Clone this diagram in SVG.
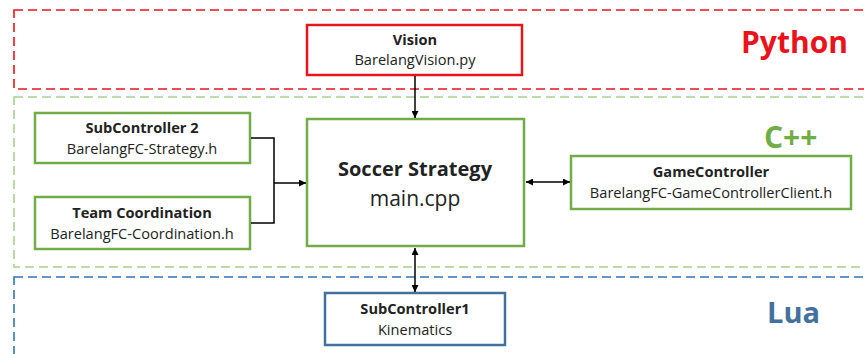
<svg xmlns="http://www.w3.org/2000/svg" width="864" height="354" viewBox="0 0 864 354">
<defs>
<marker id="ah" viewBox="0 0 10 10" refX="10" refY="5" markerWidth="7" markerHeight="7" orient="auto-start-reverse" markerUnits="userSpaceOnUse"><path d="M0,0 L10,5 L0,10 z" fill="#000"/></marker>
<style>
text{font-family:"Open Sans","Noto Sans",sans-serif;text-anchor:middle;fill:#222}
.b{font-weight:bold}
.t{font-size:14.6px}
.region{fill:none;stroke-width:1.6;stroke-dasharray:9 5}
.box{fill:#fff;stroke-width:2.5}
.g{stroke:#70AD47}
.lang{font-family:"Open Sans","Noto Sans",sans-serif;font-size:30px;font-weight:bold;text-anchor:start}
.c{fill:none;stroke:#000;stroke-width:1.5}
</style>
</defs>
<rect width="864" height="354" fill="#fff"/>
<g id="regions">
<rect class="region" x="14" y="10" width="870" height="79" stroke="#E8141C"/>
<rect class="region" x="14" y="97" width="870" height="170" stroke="#A9D18E"/>
<rect class="region" x="14" y="277" width="870" height="100" stroke="#2E75B6"/>
<text class="lang" x="741" y="53" style="fill:#E8141C">Python</text>
<text class="lang" x="764" y="148" style="fill:#70AD47">C++</text>
<text class="lang" x="767" y="323" style="fill:#41719C;font-size:29px">Lua</text>
</g>
<g id="vision">
<rect class="box" x="307" y="25" width="215" height="50" stroke="#E8141C"/>
<text class="t b" x="415" y="45">Vision</text>
<text class="t" x="415" y="65">BarelangVision.py</text>
</g>
<g id="subcontroller2">
<rect class="box g" x="35" y="113" width="215" height="50"/>
<text class="t b" x="142" y="133">SubController 2</text>
<text class="t" x="142" y="154">BarelangFC-Strategy.h</text>
</g>
<g id="teamcoordination">
<rect class="box g" x="35" y="197" width="215" height="52"/>
<text class="t b" x="142" y="218">Team Coordination</text>
<text class="t" x="142" y="239">BarelangFC-Coordination.h</text>
</g>
<g id="soccerstrategy">
<rect class="box g" x="307" y="119" width="217" height="127"/>
<text class="b" x="415" y="176" style="font-size:20px">Soccer Strategy</text>
<text x="415" y="206" style="font-size:21px">main.cpp</text>
</g>
<g id="gamecontroller">
<rect class="box g" x="571" y="156" width="280" height="53"/>
<text class="t b" x="711" y="177">GameController</text>
<text class="t" x="711" y="198">BarelangFC-GameControllerClient.h</text>
</g>
<g id="subcontroller1">
<rect class="box" x="325" y="293" width="180" height="52" stroke="#41719C"/>
<text class="t b" x="415" y="314">SubController1</text>
<text class="t" x="415" y="335">Kinematics</text>
</g>
<g id="connectors">
<line class="c" x1="415" y1="76" x2="415" y2="118" marker-end="url(#ah)"/>
<polyline class="c" points="251,138 274,138 274,223 251,223"/>
<line class="c" x1="274" y1="183" x2="306" y2="183" marker-end="url(#ah)"/>
<line class="c" x1="526" y1="182" x2="570" y2="182" marker-start="url(#ah)" marker-end="url(#ah)"/>
<line class="c" x1="415" y1="248" x2="415" y2="292" marker-start="url(#ah)" marker-end="url(#ah)"/>
</g>
</svg>
